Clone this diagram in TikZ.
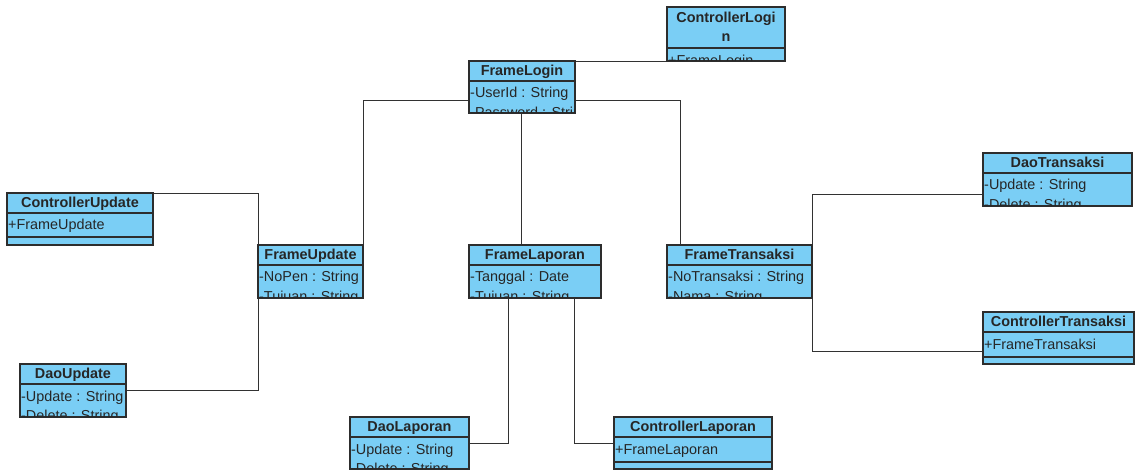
\documentclass[tikz,border=0pt]{standalone}
\usepackage{fontspec}
\setmainfont{Liberation Sans}
\usetikzlibrary{fit}
\definecolor{clsfill}{RGB}{122,206,245}
\definecolor{boxc}{RGB}{45,45,45}
\definecolor{linec}{RGB}{50,50,50}
\tikzset{
  cls/.style={draw=boxc, line width=1.3pt, fill=clsfill, inner sep=0pt, outer sep=0pt},
  sep/.style={draw=boxc, line width=1.1pt},
  link/.style={draw=linec, line width=0.9pt},
  hdr/.style={inner sep=0pt, anchor=base, font=\fontsize{14.4}{17}\selectfont\bfseries, text=black!85},
  attr/.style={inner sep=1pt, anchor=base west, font=\fontsize{14.4}{17}\selectfont, text=black!85},
}
\newcommand{\clipin}[1]{\clip ([shift={(0.7pt,-0.7pt)}]#1.north west) rectangle ([shift={(-0.7pt,0.7pt)}]#1.south east);}
\begin{document}
\begin{tikzpicture}[x=1pt,y=-1pt]
\useasboundingbox (0,0) rectangle (1135,470);
% boxes (positions)
\path
  coordinate (clA) at (667,7)   coordinate (clB) at (785,61)
  coordinate (flA) at (469,61)  coordinate (flB) at (575,113)
  coordinate (cuA) at (7,193)   coordinate (cuB) at (153,245)
  coordinate (fuA) at (258,245) coordinate (fuB) at (363,298)
  coordinate (duA) at (20,364)  coordinate (duB) at (126,417)
  coordinate (fpA) at (469,245) coordinate (fpB) at (601,298)
  coordinate (ftA) at (667,245) coordinate (ftB) at (812,298)
  coordinate (dlA) at (350,417) coordinate (dlB) at (469,469)
  coordinate (cpA) at (614,417) coordinate (cpB) at (772,469)
  coordinate (dtA) at (983,153) coordinate (dtB) at (1132,206)
  coordinate (ctA) at (983,312) coordinate (ctB) at (1134,364);
\foreach \n in {cl,fl,cu,fu,du,fp,ft,dl,cp,dt,ct}{
  \node[cls, fit=(\n A)(\n B)] (\n) {};
}
% connectors
\draw[link] (fl.north east) -- (fl.north east -| cl.west);
\draw[link] (fl.west |- 0,100) -| (fu.north east);
\draw[link] (fl.east |- 0,100) -| ([xshift=13pt]ft.north west);
\draw[link] ([xshift=-1pt]fl.south) -- ([xshift=-1pt]fl.south |- fp.north);
\draw[link] (cu.north east) -| (fu.north west);
\draw[link] (du.east) -| (fu.south west);
\draw[link] (dl.east) -| ([xshift=39pt]fp.south west);
\draw[link] (cp.west) -| ([xshift=-27pt]fp.south east);
\draw[link] (dt.west |- 0,194) -| (ft.north east);
\draw[link] (ct.west |- 0,351) -| (ft.south east);
% redraw boxes on top of connectors
\foreach \n in {cl,fl,cu,fu,du,fp,ft,dl,cp,dt,ct}{
  \node[cls, fit=(\n A)(\n B)] (\n-box) {};
}
% ControllerLogin
\draw[sep] (cl.west |- 0,48) -- (cl.east |- 0,48);
\node[hdr] (cl-t1) at (cl.north |- 0,22.5) {ControllerLogi};
\node[hdr] (cl-t2) at (cl.north |- 0,41.5) {n};
\begin{scope}\clipin{cl}
\node[attr] (cl-a1) at (cl.west |- 0,66) {+FrameLogin};
\end{scope}
% FrameLogin
\draw[sep] (fl.west |- 0,81) -- (fl.east |- 0,81);
\node[hdr] (fl-t) at (fl.north |- 0,75.5) {FrameLogin};
\begin{scope}\clipin{fl}
\node[attr] (fl-a1) at (fl.west |- 0,98) {-UserId : String};
\node[attr] (fl-a2) at (fl.west |- 0,117.5) {-Password : String};
\end{scope}
% ControllerUpdate
\draw[sep] (cu.west |- 0,213) -- (cu.east |- 0,213);
\draw[sep] (cu.west |- 0,237) -- (cu.east |- 0,237);
\node[hdr] (cu-t) at (cu.north |- 0,207.5) {ControllerUpdate};
\node[attr] (cu-a1) at (cu.west |- 0,230) {+FrameUpdate};
% FrameUpdate
\draw[sep] (fu.west |- 0,265) -- (fu.east |- 0,265);
\node[hdr] (fu-t) at (fu.north |- 0,259.5) {FrameUpdate};
\begin{scope}\clipin{fu}
\node[attr] (fu-a1) at (fu.west |- 0,282) {-NoPen : String};
\node[attr] (fu-a2) at (fu.west |- 0,301.5) {-Tujuan : String};
\end{scope}
% DaoUpdate
\draw[sep] (du.west |- 0,384) -- (du.east |- 0,384);
\node[hdr] (du-t) at (du.north |- 0,378.5) {DaoUpdate};
\begin{scope}\clipin{du}
\node[attr] (du-a1) at (du.west |- 0,401) {-Update : String};
\node[attr] (du-a2) at (du.west |- 0,420.5) {-Delete : String};
\end{scope}
% FrameLaporan
\draw[sep] (fp.west |- 0,265) -- (fp.east |- 0,265);
\node[hdr] (fp-t) at (fp.north |- 0,259.5) {FrameLaporan};
\begin{scope}\clipin{fp}
\node[attr] (fp-a1) at (fp.west |- 0,282) {-Tanggal : Date};
\node[attr] (fp-a2) at (fp.west |- 0,301.5) {-Tujuan : String};
\end{scope}
% FrameTransaksi
\draw[sep] (ft.west |- 0,265) -- (ft.east |- 0,265);
\node[hdr] (ft-t) at (ft.north |- 0,259.5) {FrameTransaksi};
\begin{scope}\clipin{ft}
\node[attr] (ft-a1) at (ft.west |- 0,282) {-NoTransaksi : String};
\node[attr] (ft-a2) at (ft.west |- 0,301.5) {-Nama : String};
\end{scope}
% DaoLaporan
\draw[sep] (dl.west |- 0,437) -- (dl.east |- 0,437);
\node[hdr] (dl-t) at (dl.north |- 0,431.5) {DaoLaporan};
\begin{scope}\clipin{dl}
\node[attr] (dl-a1) at (dl.west |- 0,454) {-Update : String};
\node[attr] (dl-a2) at (dl.west |- 0,473.5) {-Delete : String};
\end{scope}
% ControllerLaporan
\draw[sep] (cp.west |- 0,437) -- (cp.east |- 0,437);
\draw[sep] (cp.west |- 0,462) -- (cp.east |- 0,462);
\node[hdr] (cp-t) at (cp.north |- 0,431.5) {ControllerLaporan};
\node[attr] (cp-a1) at (cp.west |- 0,454) {+FrameLaporan};
% DaoTransaksi
\draw[sep] (dt.west |- 0,173) -- (dt.east |- 0,173);
\node[hdr] (dt-t) at (dt.north |- 0,167.5) {DaoTransaksi};
\begin{scope}\clipin{dt}
\node[attr] (dt-a1) at (dt.west |- 0,190) {-Update : String};
\node[attr] (dt-a2) at (dt.west |- 0,209.5) {-Delete : String};
\end{scope}
% ControllerTransaksi
\draw[sep] (ct.west |- 0,332) -- (ct.east |- 0,332);
\draw[sep] (ct.west |- 0,357) -- (ct.east |- 0,357);
\node[hdr] (ct-t) at (ct.north |- 0,326.5) {ControllerTransaksi};
\node[attr] (ct-a1) at (ct.west |- 0,349) {+FrameTransaksi};
\end{tikzpicture}
\end{document}
